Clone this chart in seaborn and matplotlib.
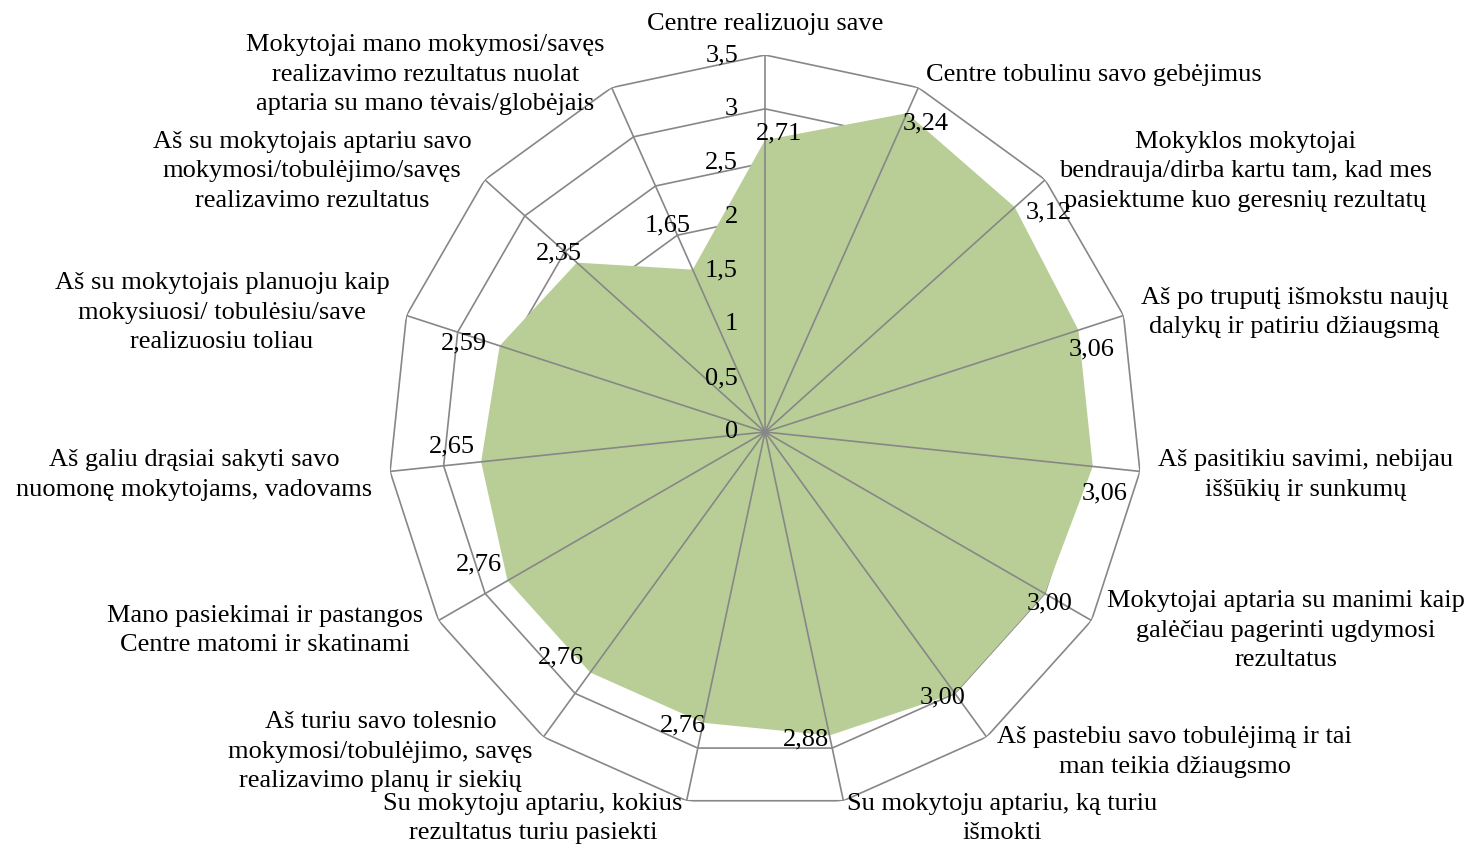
"""
Radaro diagrama: mokinių vertinimai pagal teiginius (vidurkiai)
"""
import numpy as np
import pandas as pd
import matplotlib
matplotlib.use('Agg')
import matplotlib.pyplot as plt
import seaborn as sns

# Teiginiai (pagal laikrodžio rodyklę nuo viršaus)
kategorijos = [
    'Centre realizuoju save',
    'Centre tobulinu savo gebėjimus',
    'Mokyklos mokytojai\nbendrauja/dirba kartu tam, kad mes\npasiektume kuo geresnių rezultatų',
    'Aš po truputį išmokstu naujų\ndalykų ir patiriu džiaugsmą',
    'Aš pasitikiu savimi, nebijau\niššūkių ir sunkumų',
    'Mokytojai aptaria su manimi kaip\ngalėčiau pagerinti ugdymosi\nrezultatus',
    'Aš pastebiu savo tobulėjimą ir tai\nman teikia džiaugsmo',
    'Su mokytoju aptariu, ką turiu\nišmokti',
    'Su mokytoju aptariu, kokius\nrezultatus turiu pasiekti',
    'Aš turiu savo tolesnio\nmokymosi/tobulėjimo, savęs\nrealizavimo planų ir siekių',
    'Mano pasiekimai ir pastangos\nCentre matomi ir skatinami',
    'Aš galiu drąsiai sakyti savo\nnuomonę mokytojams, vadovams',
    'Aš su mokytojais planuoju kaip\nmokysiuosi/ tobulėsiu/save\nrealizuosiu toliau',
    'Aš su mokytojais aptariu savo\nmokymosi/tobulėjimo/savęs\nrealizavimo rezultatus',
    'Mokytojai mano mokymosi/savęs\nrealizavimo rezultatus nuolat\naptaria su mano tėvais/globėjais',
]

# Vidurkiai
vidurkiai = [2.71, 3.24, 3.12, 3.06, 3.06, 3.00, 3.00, 2.88,
             2.76, 2.76, 2.76, 2.65, 2.59, 2.35, 1.65]

# Ašies žymės
asies_reiksmes = [0, 0.5, 1, 1.5, 2, 2.5, 3, 3.5]

# Reikšmių etikečių poslinkiai (px, x dešinėn, y žemyn)
etikeciu_poslinkiai = [(14, -7), (19, 10), (34, 5), (13, 19), (12, 27),
                       (5, 10), (-12, 4), (-23, 4), (-20, 3), (-29, -15),
                       (-29, -16), (-29, -15), (-36, -2), (-18, -9), (-25, -44)]

SPALVA_TINKLO = '#878787'
SPALVA_UZPILDO = '#B9CE97'

sns.set_theme(style='white')
plt.rcParams['font.family'] = ['Liberation Serif', 'DejaVu Serif']
plt.rcParams['font.size'] = 19
plt.rcParams['text.color'] = 'black'

n = len(kategorijos)
kampai = np.arange(n) * 2 * np.pi / n
rmax = asies_reiksmes[-1]

fig = plt.figure(figsize=(14.7, 8.46), dpi=100)
# centras (765, 432) px, spindulys 377 px
ax = fig.add_axes([(765 - 377) / 1470, (846 - 432 - 377) / 846,
                   754 / 1470, 754 / 846], projection='polar')
ax.set_theta_zero_location('N')
ax.set_theta_direction(-1)
ax.set_ylim(0, rmax)
ax.grid(False)
ax.set_xticks([])
ax.set_yticks([])
ax.spines['polar'].set_visible(False)
ax.set_facecolor('none')

# Tinklo daugiakampiai
ziedai = pd.DataFrame({
    'kampas': np.tile(np.append(kampai, kampai[0]), len(asies_reiksmes) - 1),
    'r': np.repeat(asies_reiksmes[1:], n + 1),
    'ziedas': np.repeat(np.arange(len(asies_reiksmes) - 1), n + 1),
})
sns.lineplot(data=ziedai, x='kampas', y='r', units='ziedas', estimator=None,
             sort=False, color=SPALVA_TINKLO, linewidth=1.2, legend=False,
             ax=ax, zorder=1)
ax.set_xlabel('')
ax.set_ylabel('')

# Duomenų plotas
uzd_kampai = np.append(kampai, kampai[0])
uzd_reiksmes = np.append(vidurkiai, vidurkiai[0])
ax.fill(uzd_kampai, uzd_reiksmes, color=SPALVA_UZPILDO, linewidth=0, zorder=2)

# Stipinai
for k in kampai:
    ax.plot([k, k], [0, rmax], color=SPALVA_TINKLO, linewidth=1.2, zorder=3)

# Ašies žymės
for v in asies_reiksmes:
    ax.annotate(f'{v:g}'.replace('.', ','), xy=(0, v), xytext=(-27, 0),
                textcoords='offset pixels', ha='right', va='center',
                fontsize=19, zorder=4)

# Reikšmių etiketės
for k, v, (dx, dy) in zip(kampai, vidurkiai, etikeciu_poslinkiai):
    ax.annotate(f'{v:.2f}'.replace('.', ','), xy=(k, v), xytext=(dx, -dy),
                textcoords='offset pixels', ha='center', va='center',
                fontsize=19, zorder=5)

# Kategorijų pavadinimai
for k, tekstas in zip(kampai, kategorijos):
    s, c = np.sin(k), np.cos(k)
    if abs(s) < 0.05:
        ha, dx, dy = 'center', 0, 31
    else:
        ha = 'left' if s > 0 else 'right'
        dx, dy = 18 * s, 16 * c - 2
    ax.annotate(tekstas, xy=(k, rmax), xytext=(dx, dy),
                textcoords='offset pixels', ha=ha, va='center',
                multialignment='center', linespacing=1.44,
                fontsize=19, zorder=5, annotation_clip=False)

fig.savefig('out.png', dpi=100)
